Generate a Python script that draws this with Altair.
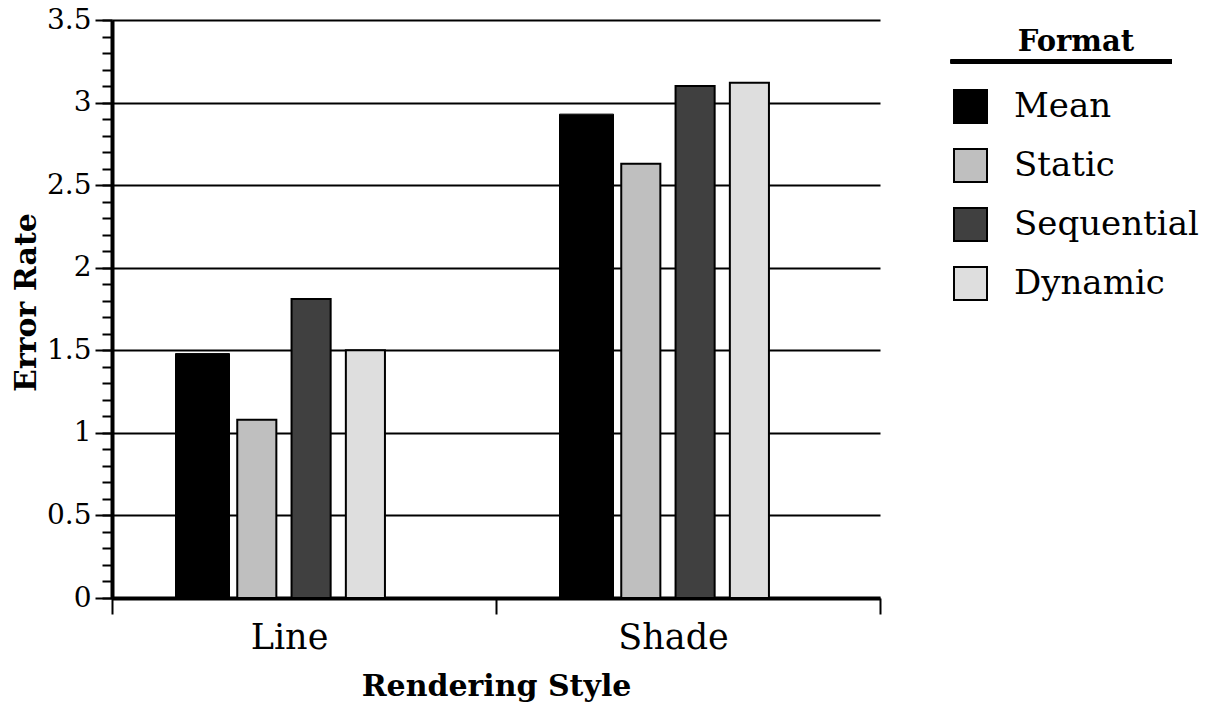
import altair as alt
import pandas as pd

styles = ["Line", "Shade"]
formats = ["Mean", "Static", "Sequential", "Dynamic"]
line_values = [1.48, 1.08, 1.81, 1.50]
shade_values = [2.93, 2.63, 3.10, 3.12]
colors = ["#000000", "#bfbfbf", "#404040", "#dedede"]
major_ticks = [0, 0.5, 1, 1.5, 2, 2.5, 3, 3.5]
minor_ticks = [round(i * 0.1, 1) for i in range(36)]

rows = []
for s, vals in zip(styles, [line_values, shade_values]):
    for f, v in zip(formats, vals):
        rows.append({"style": s, "format": f, "rate": v})
df = pd.DataFrame(rows)

FONT = "DejaVu Serif"

x_enc = alt.X(
    "style:N", sort=styles,
    scale=alt.Scale(domain=styles, paddingInner=0, paddingOuter=0),
    axis=alt.Axis(title="Rendering Style", labelAngle=0, tickBand="extent",
                  domainWidth=4, domainColor="black", tickColor="black",
                  tickWidth=2, tickSize=16, labelFontSize=35, labelPadding=6,
                  labelOffset=-15, labelColor="black",
                  titleFontSize=30, titleFontWeight="bold", titlePadding=16,
                  titleColor="black", grid=False),
)
xoff_enc = alt.XOffset(
    "format:N", sort=formats,
    scale=alt.Scale(domain=formats, range=[63.35, 280.55], paddingInner=0.28, paddingOuter=0.14),
)
y_major = alt.Y(
    "rate:Q",
    scale=alt.Scale(domain=[0, 3.5], nice=False, zero=True),
    axis=alt.Axis(title="Error Rate", values=major_ticks, format="~g", orient="left",
                  grid=True, gridColor="black", gridWidth=2, gridOpacity=1,
                  domainWidth=4, domainColor="black", tickColor="black",
                  tickWidth=2, tickSize=17, labelFontSize=28, labelPadding=4,
                  labelColor="black", titleFontSize=30, titleFontWeight="bold",
                  titleX=-71, titleY=282, titleColor="black"),
)
y_minor = alt.Y(
    "rate:Q",
    scale=alt.Scale(domain=[0, 3.5], nice=False, zero=True),
    axis=alt.Axis(title=None, values=minor_ticks, orient="left", labels=False,
                  domain=False, grid=False, tickColor="black", tickWidth=2,
                  tickSize=10),
)
color_enc = alt.Color(
    "format:N", sort=formats,
    scale=alt.Scale(domain=formats, range=colors),
    legend=alt.Legend(title="Format", orient="none", legendX=841, legendY=8,
                      padding=0, symbolType="square", symbolSize=1089,
                      symbolStrokeColor="black", symbolStrokeWidth=2,
                      symbolOpacity=1, labelFontSize=34, labelOffset=26,
                      labelLimit=0, labelColor="black", titleFontSize=29,
                      titleFontWeight="bold", titleColor="black",
                      titleAnchor="middle", titlePadding=32, rowPadding=18),
)

others = alt.Chart(df).transform_filter("datum.format != 'Mean'").mark_bar(
    stroke="black", strokeWidth=2
).encode(x=x_enc, xOffset=xoff_enc, y=y_major, color=color_enc)

mean = alt.Chart(df).transform_filter("datum.format == 'Mean'").mark_bar(
    stroke="black", strokeWidth=1, width=54
).encode(x=x_enc, xOffset=xoff_enc,
         y=alt.Y("rate:Q", scale=alt.Scale(domain=[0, 3.5], nice=False, zero=True), axis=None),
         color=color_enc)

minor = alt.Chart(df).mark_point(opacity=0).encode(y=y_minor)

underline = alt.Chart(df).mark_rule(color="black", strokeWidth=4).encode(
    x=alt.value(838.7), x2=alt.value(1060), y=alt.value(41.5)
)

chart = alt.layer(others, mean, minor, underline).resolve_axis(y="independent").properties(
    width=768, height=578,
    autosize=alt.AutoSizeParams(type="none"),
    padding={"left": 112, "top": 20, "right": 337, "bottom": 113},
).configure(font=FONT).configure_view(stroke=None).configure_axis(
    labelFont=FONT, titleFont=FONT
).configure_legend(labelFont=FONT, titleFont=FONT)

chart.save("out.html", embed_options={"renderer": "svg", "actions": False})
